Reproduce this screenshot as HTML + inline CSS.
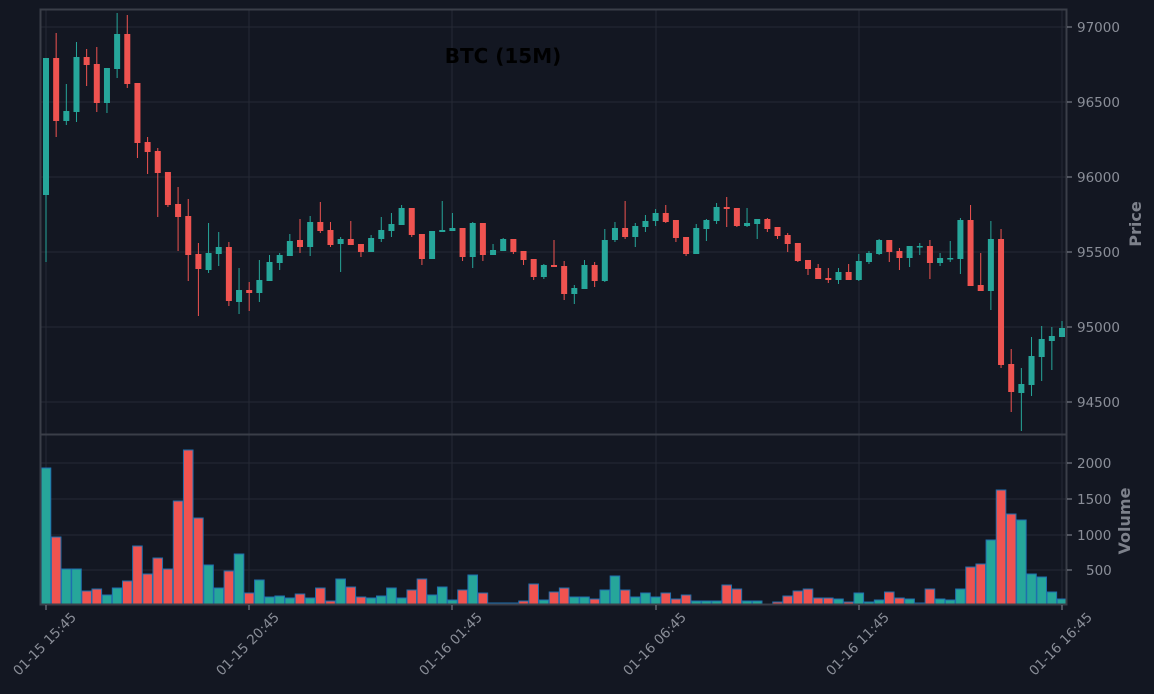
<!DOCTYPE html>
<html><head><meta charset="utf-8"><style>
html,body{margin:0;padding:0;background:#131722;}
svg{display:block;font-family:"DejaVu Sans","Liberation Sans",sans-serif;}
</style></head><body>
<svg id="s" width="1154" height="694" xmlns="http://www.w3.org/2000/svg">
<rect width="1154" height="694" fill="#131722"/>
<g id="grid" stroke="#262a35" stroke-width="1"></g>
<g id="vol"></g>
<g id="cdl"></g>
<rect x="40.5" y="9.5" width="1026" height="425" fill="none" stroke="#3a3e48" stroke-width="2"/>
<rect x="40.5" y="434.5" width="1026" height="170" fill="none" stroke="#3a3e48" stroke-width="2"/>
<g fill="#8a8e98" font-size="13.5">
<text x="1077" y="32">97000</text><text x="1077" y="107">96500</text><text x="1077" y="182">96000</text>
<text x="1077" y="257">95500</text><text x="1077" y="332">95000</text><text x="1077" y="407">94500</text>
<text x="1077" y="468">2000</text><text x="1077" y="504">1500</text><text x="1077" y="540">1000</text><text x="1086" y="575">500</text>
</g>
<g fill="#8a8e98" font-size="13.5" text-anchor="end">
<text transform="translate(77,618) rotate(-45)">01-15 15:45</text>
<text transform="translate(280,618) rotate(-45)">01-15 20:45</text>
<text transform="translate(483,618) rotate(-45)">01-16 01:45</text>
<text transform="translate(687,618) rotate(-45)">01-16 06:45</text>
<text transform="translate(890,618) rotate(-45)">01-16 11:45</text>
<text transform="translate(1093,618) rotate(-45)">01-16 16:45</text>
</g>
<text transform="translate(1141,224) rotate(-90)" text-anchor="middle" fill="#7d818b" font-size="16" font-weight="bold">Price</text>
<text transform="translate(1130,521) rotate(-90)" text-anchor="middle" fill="#7d818b" font-size="16" font-weight="bold">Volume</text>
<text x="503" y="63" text-anchor="middle" fill="#000" font-size="20" font-weight="bold">BTC (15M)</text>
</svg>
<script>
var G="#26a69a",R="#ef5350",NS="http://www.w3.org/2000/svg";
var C=[[G,58,195,58,262],[R,58,121,33,137],[G,111,121,84,125],[G,57,112,42,122],[R,57,65,49,86],[R,64,103,47,112],[G,68,103,68,113],[G,34,69,13,78],[R,34,84,15,88],[R,83,143,83,158],
[R,142,152,137,174],[R,151,173,148,217],[R,172,205,172,207],[R,204,217,187,251],[R,216,255,199,281],[R,254,269,243,316],[G,253,270,223,273],[G,247,254,232,266],[R,247,301,242,306],[G,290,302,268,314],
[R,290,293,282,311],[G,280,293,260,302],[G,262,281,255,281],[G,255,263,253,270],[G,241,256,234,256],[R,240,247,219,253],[G,222,247,216,256],[R,222,231,202,233],[R,230,245,222,247],[G,239,244,237,272],
[R,239,245,221,245],[R,244,252,244,257],[G,238,252,235,252],[G,230,239,217,242],[G,224,231,213,237],[G,208,225,205,225],[R,208,235,208,237],[R,234,259,234,265],[G,231,259,231,259],[G,230,232,201,232],
[G,228,231,213,231],[R,228,257,228,261],[G,223,257,222,268],[R,223,255,223,261],[G,250,255,244,255],[G,239,251,238,251],[R,239,252,239,254],[R,251,260,251,265],[R,259,277,259,280],[G,265,277,264,279],
[R,265,267,240,267],[R,266,294,261,300],[G,288,294,285,304],[G,265,289,260,289],[R,265,281,262,287],[G,240,281,229,282],[G,228,240,222,242],[R,228,237,201,239],[G,226,237,223,247],[G,221,227,215,232],
[G,213,221,209,226],[R,213,222,205,223],[R,220,238,220,242],[R,237,254,237,256],[G,228,254,224,254],[G,220,229,219,241],[G,207,221,203,224],[R,207,209,197,227],[R,208,226,208,227],[G,223,226,208,227],
[G,219,224,219,239],[R,219,229,218,232],[R,227,236,227,239],[R,235,244,233,252],[R,243,261,243,262],[R,260,269,260,275],[R,268,279,264,279],[R,278,280,268,283],[G,272,280,268,284],[R,272,280,264,280],
[G,261,280,254,281],[G,253,262,251,264],[G,240,254,239,255],[R,240,252,240,262],[R,251,258,248,270],[G,246,258,246,267],[G,246,247,243,255],[R,246,263,240,279],[G,258,263,253,266],[G,258,259,241,262],
[G,220,259,218,274],[R,220,286,205,286],[R,285,291,253,291],[G,239,291,221,310],[R,239,365,229,368],[R,364,392,349,412],[G,384,393,368,431],[G,356,385,337,396],[G,339,357,326,381],[G,336,341,327,370],[G,328,337,321,337]];
var V=[468,537,569,569,591,589,595,588,581,546,574,558,569,501,450,518,565,588,571,554,593,580,597,596,598,594,598,588,601,579,587,597,598,596,588,598,590,579,595,587,600,590,575,593,603,603,603,601,584,600,592,
588,597,597,599,590,576,590,597,593,597,593,599,595,601,601,601,585,589,601,601,604,602,596,591,589,598,598,599,602,593,602,600,592,598,599,603,589,599,600,589,567,564,540,490,514,520,574,577,592,599];
function el(t,a,p){var e=document.createElementNS(NS,t);for(var k in a)e.setAttribute(k,a[k]);p.appendChild(e);return e;}
var g=document.getElementById("grid"),cg=document.getElementById("cdl"),vg=document.getElementById("vol"),s=document.getElementById("s");
[46,249,452,656,859,1062].forEach(function(x){el("line",{x1:x,x2:x,y1:10,y2:604},g);el("line",{x1:x,x2:x,y1:605,y2:610,stroke:"#8a8e98"},s);});
[27,102,177,252,327,402,463,499,535,570].forEach(function(y){el("line",{x1:41,x2:1066,y1:y,y2:y},g);el("line",{x1:1067,x2:1072,y1:y,y2:y,stroke:"#8a8e98"},s);});
var col=[];
C.forEach(function(c,i){var x=46+i*10.16;col.push(c[0]);
el("line",{x1:x,x2:x,y1:c[3],y2:c[4],stroke:c[0],"stroke-width":1},cg);
el("rect",{x:x-3,y:c[1],width:6,height:Math.max(1.5,c[2]-c[1]),fill:c[0]},cg);});
V.forEach(function(v,i){var x=46+i*10.16;if(v>=603.5)return;
el("rect",{x:x-4.8,y:v,width:9.6,height:604-v,fill:col[i],stroke:"#1f6fae","stroke-width":1},vg);});
</script>
</body></html>
